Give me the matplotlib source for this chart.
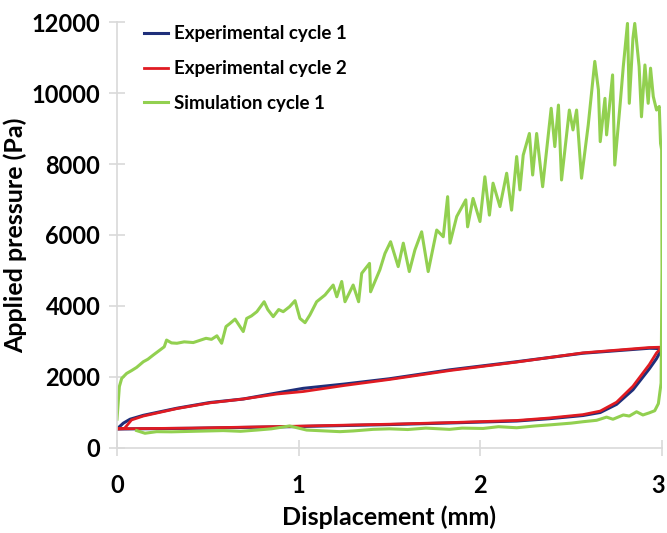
import matplotlib.pyplot as plt
import matplotlib.transforms as mtransforms

# experimental cycle 1 (loading then unloading)
exp1_disp = [0.0, 0.035, 0.072, 0.145, 0.33, 0.51, 0.695, 0.88, 1.025, 1.25, 1.5, 1.83, 2.2, 2.565, 2.93, 3.0,
             2.97, 2.93, 2.84, 2.75, 2.66, 2.565, 2.38, 2.2, 1.83, 1.5, 0.95, 0.41, 0.0]
exp1_pres = [535, 700, 810, 920, 1120, 1280, 1380, 1550, 1680, 1800, 1950, 2200, 2430, 2670, 2810, 2800,
             2520, 2230, 1640, 1230, 1000, 915, 825, 760, 705, 660, 600, 555, 535]

# experimental cycle 2
exp2_disp = [0.0, 0.04, 0.08, 0.145, 0.33, 0.51, 0.695, 0.88, 1.025, 1.25, 1.5, 1.83, 2.2, 2.565, 2.93, 3.0,
             2.97, 2.93, 2.84, 2.75, 2.66, 2.565, 2.38, 2.2, 1.83, 1.5, 0.95, 0.41, 0.0]
exp2_pres = [540, 545, 790, 900, 1110, 1270, 1380, 1520, 1590, 1760, 1930, 2180, 2420, 2680, 2830, 2840,
             2680, 2350, 1740, 1290, 1040, 940, 845, 775, 715, 670, 610, 560, 540]

# simulation cycle 1
sim_disp = [0.0, 0.013, 0.026, 0.053, 0.08, 0.108, 0.145, 0.17, 0.2, 0.237, 0.26, 0.273, 0.3, 0.33, 0.37,
            0.42, 0.46, 0.49, 0.52, 0.55, 0.576, 0.6, 0.62, 0.65, 0.695, 0.714, 0.74, 0.77, 0.81, 0.83,
            0.86, 0.89, 0.915, 0.95, 0.98, 1.007, 1.035, 1.062, 1.099, 1.145, 1.19, 1.21, 1.237, 1.255, 1.3,
            1.33, 1.347, 1.39, 1.396, 1.447, 1.475, 1.506, 1.548, 1.576, 1.609, 1.64, 1.677, 1.713, 1.76, 1.796,
            1.82, 1.833, 1.87, 1.92, 1.93, 1.96, 1.998, 2.025, 2.05, 2.07, 2.108, 2.145, 2.172, 2.2, 2.218,
            2.236, 2.27, 2.288, 2.31, 2.343, 2.365, 2.39, 2.41, 2.43, 2.447, 2.49, 2.51, 2.53, 2.557, 2.594,
            2.63, 2.65, 2.66, 2.686, 2.695, 2.728, 2.74, 2.77, 2.787, 2.81, 2.82, 2.84, 2.85, 2.874, 2.887,
            2.906, 2.924, 2.937, 2.952, 2.97, 2.985, 2.992, 2.998,
            3.0, 2.995, 2.98, 2.96, 2.93, 2.895, 2.86, 2.82, 2.787, 2.73, 2.695, 2.64, 2.565, 2.5, 2.38,
            2.3, 2.2, 2.1, 2.015, 1.9, 1.83, 1.7, 1.6, 1.5, 1.41, 1.3, 1.227, 1.1, 1.044, 0.95, 0.85,
            0.77, 0.68, 0.585, 0.5, 0.4, 0.3, 0.218, 0.154, 0.108]
sim_pres = [810, 1730, 1960, 2100, 2180, 2270, 2430, 2500, 2620, 2760, 2850, 3040, 2960, 2950, 2990,
            2970, 3040, 3090, 3060, 3160, 2950, 3420, 3500, 3630, 3280, 3650, 3720, 3840, 4120, 3900,
            3700, 3900, 3840, 3980, 4150, 3650, 3530, 3750, 4120, 4310, 4590, 4260, 4690, 4120, 4590,
            4120, 4920, 5200, 4400, 5020, 5480, 5810, 5110, 5770, 4970, 5580, 6090, 4970, 6140, 5950,
            7080, 5770, 6520, 6990, 6230, 7030, 6380, 7640, 6560, 7460, 6800, 7740, 6700, 8210, 7270,
            8250, 8860, 7690, 8860, 7360, 8400, 9570, 8490, 9660, 7550, 9520, 8960, 9520, 7600, 9100,
            10890, 10090, 8630, 9850, 8820, 10510, 7970, 9710, 10750, 11960, 9710, 11540, 11960, 10750, 9330,
            10790, 9710, 10700, 9900, 9520, 9620, 8580, 8400,
            5000, 1830, 1250, 1050, 990, 930, 1020, 900, 930, 810, 870, 780, 740, 700, 650,
            620, 570, 600, 550, 560, 525, 560, 520, 540, 525, 480, 460, 490, 505, 620, 540,
            505, 470, 490, 480, 470, 455, 460, 415, 490]

plt.rcParams['font.family'] = ['Lato', 'DejaVu Sans']
plt.rcParams['font.weight'] = 'bold'

fig, ax = plt.subplots(figsize=(6.67, 5.33), dpi=100)
fig.subplots_adjust(left=0.1754, right=0.9925, bottom=0.1595, top=0.9587)

ax.plot(exp1_disp, exp1_pres, color='#1f2f7a', lw=2.2, label='Experimental cycle 1')
ax.plot(exp2_disp, exp2_pres, color='#e01b22', lw=2.0, label='Experimental cycle 2')
ax.plot(sim_disp, sim_pres, color='#92d050', lw=2.2, label='Simulation cycle 1')

ax.set_xlim(0, 3)
ax.set_ylim(0, 12000)
ax.set_xticks([0, 1, 2, 3])
ax.set_yticks(range(0, 12001, 2000))

for side in ['top', 'right']:
    ax.spines[side].set_visible(False)
for side in ['left', 'bottom']:
    ax.spines[side].set_color('#d9d9d9')
    ax.spines[side].set_linewidth(1.2)

ax.tick_params(direction='inout', length=12, width=1.2, color='#d9d9d9', labelsize=17, pad=6)
ax.tick_params(axis='x', pad=13)

# last x label sits on the figure edge, keep it inside
last = ax.get_xticklabels()[-1]
last.set_horizontalalignment('right')
last.set_transform(last.get_transform() + mtransforms.ScaledTranslation(3 / 100, 0, fig.dpi_scale_trans))

ax.set_xlabel('Displacement (mm)', fontsize=18, fontweight='bold')
ax.set_ylabel('Applied pressure (Pa)', fontsize=18, fontweight='bold')
ax.xaxis.set_label_coords(0.5, -0.135)
ax.yaxis.set_label_coords(-0.165, 0.5)

ax.legend(loc='upper left', bbox_to_anchor=(0.035, 1.01), frameon=False, fontsize=13.5,
          handlelength=1.3, handletextpad=0.3, labelspacing=0.95, borderaxespad=0)

plt.savefig('out.png', dpi=100)
